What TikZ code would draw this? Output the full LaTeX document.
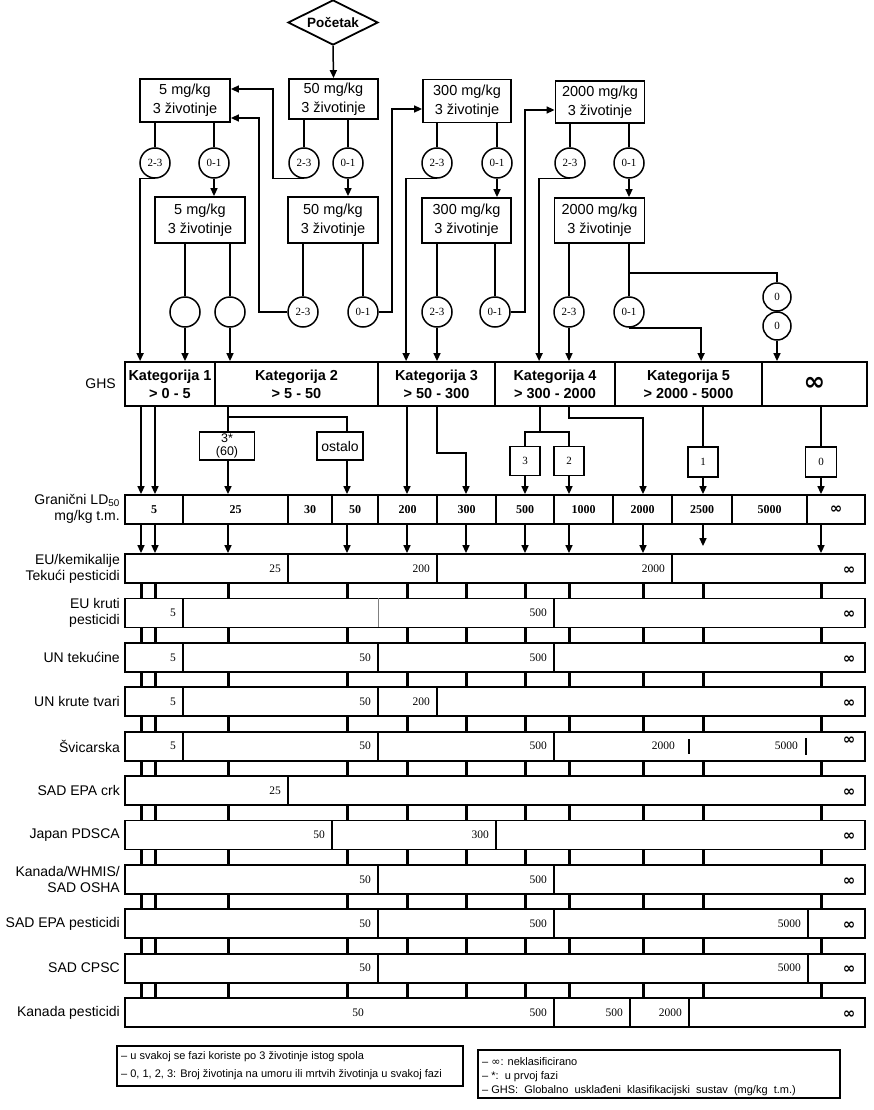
\documentclass[tikz,border=0pt]{standalone}
\usepackage{fontspec}
\setmainfont{Liberation Sans}
\newfontfamily\serifnum{Liberation Serif}
\newfontfamily\djv{DejaVu Sans}
\usetikzlibrary{arrows.meta,shapes.geometric,calc}
\newcommand\rdv[2]{\draw[divl] (#2,{554+44.4*#1}) -- (#2,{583+44.4*#1});}
\newcommand\rnum[3]{\node[num] at ({#2-7},{568.5+44.4*#1}) {#3};}
\newcommand\rinf[1]{\node[inf] at (849,{570.5+44.4*#1}) {∞};}
\begin{document}
\begin{tikzpicture}[x=1pt,y=-1pt,
  >={Triangle[length=8pt,width=7pt]},
  ln/.style={line width=1.5pt},
  divl/.style={line width=1.4pt},
  box/.style={draw,line width=1.8pt,align=center,font=\fontsize{14.5}{19}\selectfont,inner sep=0pt,minimum width=89pt},
  circ/.style={draw,circle,line width=1.5pt,minimum size=30pt,inner sep=0pt,font=\serifnum\fontsize{11}{12}\selectfont},
  zcirc/.style={circ,minimum size=28pt},
  sbox/.style={draw,line width=1.5pt,inner sep=0pt,align=center,minimum height=29pt},
  ghscell/.style={draw,line width=1.8pt,inner sep=0pt,minimum height=44pt,align=center,font=\bfseries\fontsize{14.5}{18}\selectfont},
  cell/.style={draw,line width=1.8pt,inner sep=0pt,minimum height=29pt,font=\serifnum\bfseries\fontsize{12}{13}\selectfont},
  rowbox/.style={draw,line width=1.8pt,inner sep=0pt,minimum height=29pt,minimum width=740pt},
  num/.style={font=\serifnum\fontsize{11.5}{12}\selectfont,anchor=east,inner sep=0pt},
  inf/.style={font=\djv\bfseries\fontsize{15}{15}\selectfont,inner sep=0pt},
  lab/.style={font=\fontsize{14}{16}\selectfont,anchor=east,align=right,inner sep=0pt},
  legt/.style={font=\fontsize{11}{12}\selectfont,anchor=west,inner sep=0pt},
  tick/.style={line width=3pt},
]
\useasboundingbox (0,0) rectangle (874,1110);
\fill[white] (0,0) rectangle (874,1110);

% ---------- start ----------
\node[draw,diamond,aspect=2,minimum width=90pt,minimum height=45pt,inner sep=0pt,line width=1.8pt,font=\bfseries\fontsize{13.5}{15}\selectfont] (start) at (333,22.5) {Početak};

% ---------- dosing boxes ----------
\node[box,minimum width=90pt,minimum height=43pt] (a5) at (185,100.5) {5 mg/kg\\3 životinje};
\node[box,minimum height=40pt] (a50) at (333.5,99) {50 mg/kg\\3 životinje};
\node[box,minimum width=88pt,minimum height=43pt] (a300) at (467,101) {300 mg/kg\\3 životinje};
\node[box,minimum width=89pt,minimum height=42pt] (a2000) at (600,102) {2000 mg/kg\\3 životinje};

\node[box,minimum width=90pt,minimum height=46pt] (b5) at (200,220) {5 mg/kg\\3 životinje};
\node[box,minimum width=90pt,minimum height=46pt] (b50) at (333,220) {50 mg/kg\\3 životinje};
\node[box,minimum width=89pt,minimum height=45pt] (b300) at (466.5,220.5) {300 mg/kg\\3 životinje};
\node[box,minimum width=90pt,minimum height=45pt] (b2000) at (599.5,220.5) {2000 mg/kg\\3 životinje};

\draw[->,ln] (start.south) -- (a50.north);

% ---------- circles, first stage ----------
\node[circ] (cA5t) at (155,163) {2-3};
\node[circ] (cA5o) at (214,163) {0-1};
\node[circ] (cA50t) at (304,163) {2-3};
\node[circ] (cA50o) at (348,163) {0-1};
\node[circ] (cA300t) at (437,163) {2-3};
\node[circ] (cA300o) at (497,163) {0-1};
\node[circ] (cA2000t) at (570,163) {2-3};
\node[circ] (cA2000o) at (629,163) {0-1};

\foreach \b/\c in {a5/cA5t,a5/cA5o,a50/cA50t,a50/cA50o,a300/cA300t,a300/cA300o,a2000/cA2000t,a2000/cA2000o}
  \draw[ln] (\b.south -| \c.north) -- (\c.north);
\draw[->,ln] (cA5o.south) -- (cA5o.south |- b5.north);
\draw[->,ln] (cA50o.south) -- (cA50o.south |- b50.north);
\draw[->,ln] (cA300o.south) -- (cA300o.south |- b300.north);
\draw[->,ln] (cA2000o.south) -- (cA2000o.south |- b2000.north);

% ---------- circles, second stage ----------
\node[circ] (cB5a) at (185,312) {};
\node[circ] (cB5b) at (230,312) {};
\node[circ] (cB50t) at (303,312) {2-3};
\node[circ] (cB50o) at (363,312) {0-1};
\node[circ] (cB300t) at (437,312) {2-3};
\node[circ] (cB300o) at (495,312) {0-1};
\node[circ] (cB2000t) at (569,312) {2-3};
\node[circ] (cB2000o) at (629,312) {0-1};
\node[zcirc] (z1) at (777,297) {0};
\node[zcirc] (z2) at (777,326) {0};

\foreach \b/\c in {b5/cB5a,b5/cB5b,b50/cB50t,b50/cB50o,b300/cB300t,b300/cB300o,b2000/cB2000t,b2000/cB2000o}
  \draw[ln] (\b.south -| \c.north) -- (\c.north);

% ---------- GHS row ----------
\node[lab] (ghslab) at (116,384) {GHS};
\node[ghscell,minimum width=90pt] (k1) at (170,384) {Kategorija 1\\\textgreater{} 0 - 5};
\node[ghscell,minimum width=163pt] (k2) at (296.5,384) {Kategorija 2\\\textgreater{} 5 - 50};
\node[ghscell,minimum width=117pt] (k3) at (436.5,384) {Kategorija 3\\\textgreater{} 50 - 300};
\node[ghscell,minimum width=120pt] (k4) at (555,384) {Kategorija 4\\\textgreater{} 300 - 2000};
\node[ghscell,minimum width=147pt] (k5) at (688.5,384) {Kategorija 5\\\textgreater{} 2000 - 5000};
\node[ghscell,minimum width=105pt,font=\djv\bfseries\fontsize{26}{26}\selectfont] (kinf) at (814.5,384) {\raisebox{-3pt}{∞}};

% feedback / routing connectors
\coordinate (j1) at (273,89);
\coordinate (j2) at (259,118);
\coordinate (j3) at (392,109);
\coordinate (j4) at (525,110);
\coordinate (j5) at (629,273);
\draw[->,ln] (cA50t.south) -| (j1) -- (a5.east |- j1);
\draw[->,ln] (cB50t.west) -| (j2) -- (a5.east |- j2);
\draw[->,ln] (cB50o.east) -| (j3) -- (a300.west |- j3);
\draw[->,ln] (cB300o.east) -| (j4) -- (a2000.west |- j4);
\draw[->,ln] (cA5t.south) -| ([xshift=16pt]k1.north west);
\draw[->,ln] (cA300t.south) -| ([xshift=29pt]k3.north west);
\draw[->,ln] (cA2000t.south) -| ([xshift=45pt]k4.north west);
\draw[->,ln] (cB5a.south) -- (cB5a.south |- k1.north);
\draw[->,ln] (cB5b.south) -- (cB5b.south |- k2.north);
\draw[->,ln] (cB300t.south) -- (cB300t.south |- k3.north);
\draw[->,ln] (cB2000t.south) -- (cB2000t.south |- k4.north);
\draw[->,ln] (cB2000o.south) -| ([xshift=87pt]k5.north west);
\draw[ln] (j5) -| (z1.north);
\draw[->,ln] (z2.south) -- (z2.south |- kinf.north);

% ---------- column positions ----------
\coordinate (X1) at (141,0);
\coordinate (X2) at (155,0);
\coordinate (X3) at (228,0);
\coordinate (X4) at (347,0);
\coordinate (X5) at (407,0);
\coordinate (X6) at (466,0);
\coordinate (X7) at (525,0);
\coordinate (X8) at (569,0);
\coordinate (X9) at (643,0);
\coordinate (X10) at (703,0);
\coordinate (X11) at (821,0);

% ---------- LD50 row ----------
\node[lab] (ldlab) at (120,509) {Granični LD\textsubscript{50}\\mg/kg t.m.};
\foreach \a/\b/\t [count=\i] in {125/183/5,183/288/25,288/332/30,332/378/50,378/437/200,437/496/300,496/554/500,554/613/1000,613/672/2000,672/732/2500,732/807/5000}
  \node[cell,minimum width={(\b-\a)*1pt}] (ld\i) at ({(\a+\b)/2},509.5) {\t};
\node[cell,minimum width=58pt,font=\djv\bfseries\fontsize{15}{15}\selectfont] (ld12) at (836,509.5) {\raisebox{-2pt}{∞}};

% ---------- GHS -> LD50 ----------
\draw[->,ln] (X1 |- k1.south) -- (X1 |- ld1.north);
\draw[->,ln] (X2 |- k1.south) -- (X2 |- ld1.north);
\node[sbox,minimum width=55pt,minimum height=28pt,font=\fontsize{12.5}{13}\selectfont] (s3) at (227,446) {3*\\(60)};
\node[sbox,minimum width=46pt,minimum height=28pt,font=\fontsize{14}{15}\selectfont] (ost) at (340,446) {ostalo};
\coordinate (j6) at (228,417);
\draw[ln] (X3 |- k2.south) -- (j6) -| (X4 |- ost.north);
\draw[ln] (j6) -- (j6 |- s3.north);
\draw[->,ln] (X3 |- s3.south) -- (X3 |- ld2.north);
\draw[->,ln] (X4 |- ost.south) -- (X4 |- ld4.north);
\draw[->,ln] (X5 |- k3.south) -- (X5 |- ld5.north);
\coordinate (j7) at (437,453);
\draw[->,ln] (j7 |- k3.south) -- (j7) -| (X6 |- ld6.north);
\node[sbox,minimum width=30pt,font=\serifnum\fontsize{11}{12}\selectfont] (t3) at (525,461) {3};
\node[sbox,minimum width=30pt,font=\serifnum\fontsize{11}{12}\selectfont] (t2) at (569,461) {2};
\node[sbox,minimum width=30pt,minimum height=30pt,font=\serifnum\fontsize{11}{12}\selectfont] (t1) at (703,462) {1};
\node[sbox,minimum width=31pt,minimum height=30pt,font=\serifnum\fontsize{11}{12}\selectfont] (t0) at (821,462) {0};
\coordinate (j8) at (540,432);
\draw[ln] (j8 |- k4.south) -- (j8);
\draw[ln] (t3.north) |- (j8) -| (t2.north);
\draw[->,ln] (t3.south) -- (X7 |- ld7.north);
\draw[->,ln] (t2.south) -- (X8 |- ld8.north);
\coordinate (j9) at (569,418);
\draw[->,ln] (j9 |- k4.south) -- (j9) -| (X9 |- ld9.north);
\draw[ln] (X10 |- k5.south) -- (t1.north);
\draw[->,ln] (t1.south) -- (X10 |- ld10.north);
\draw[ln] (X11 |- kinf.south) -- (t0.north);
\draw[->,ln] (t0.south) -- (X11 |- ld12.north);

% ---------- regulation rows ----------
\foreach \i in {0,...,10}
  \node[rowbox] (r\i) at (495,{568.5+44.4*\i}) {};

\foreach \c in {X1,X2,X3,X4,X5,X6,X7,X8,X9,X11}
  \draw[->,ln] (\c |- ld1.south) -- (\c |- r0.north);
\draw[->,ln] (X10 |- ld1.south) -- ([yshift=7pt]X10 |- r0.north);

\foreach \i in {0,...,9}{
  \pgfmathtruncatemacro\nx{\i+1}
  \foreach \c in {X1,X2,X3,X4,X5,X6,X7,X8,X9,X10,X11}
    \draw[tick] (\c |- r\i.south) -- (\c |- r\nx.north);
}

% row labels
\node[lab] at (120,568.5) {EU/kemikalije\\Tekući pesticidi};
\node[lab] at (120,612.9) {EU kruti\\pesticidi};
\node[lab] at (120,657.3) {UN tekućine};
\node[lab] at (120,701.7) {UN krute tvari};
\node[lab] at (120,746.1) {Švicarska};
\node[lab] at (120,790.5) {SAD EPA crk};
\node[lab] at (120,834.9) {Japan PDSCA};
\node[lab] at (120,879.3) {Kanada/WHMIS/\\SAD OSHA};
\node[lab] at (120,923.7) {SAD EPA pesticidi};
\node[lab] at (120,968.1) {SAD CPSC};
\node[lab] at (120,1012.5) {Kanada pesticidi};

% row 0
\rdv{0}{288}\rdv{0}{437}\rdv{0}{672}
\rnum{0}{288}{25}\rnum{0}{437}{200}\rnum{0}{672}{2000}\rinf{0}
% row 1
\rdv{1}{183}\draw[line width=0.7pt,gray] (378,598.4) -- (378,627.4);\rdv{1}{554}
\rnum{1}{183}{5}\rnum{1}{554}{500}\rinf{1}
% row 2
\rdv{2}{183}\rdv{2}{378}\rdv{2}{554}
\rnum{2}{183}{5}\rnum{2}{378}{50}\rnum{2}{554}{500}\rinf{2}
% row 3
\rdv{3}{183}\rdv{3}{378}\rdv{3}{437}
\rnum{3}{183}{5}\rnum{3}{378}{50}\rnum{3}{437}{200}\rinf{3}
% row 4
\rdv{4}{183}\rdv{4}{378}\rdv{4}{554}
\rnum{4}{183}{5}\rnum{4}{378}{50}\rnum{4}{554}{500}
\node[num] at (675,746.1) {2000};
\node[num] at (798,746.1) {5000};
\draw[line width=1.2pt] (689,739) -- (689,754);
\draw[line width=1.2pt] (806,738) -- (806,755);
\node[inf] at (849,741) {∞};
% row 5
\rdv{5}{288}\rnum{5}{288}{25}\rinf{5}
% row 6
\rdv{6}{332}\rdv{6}{496}
\rnum{6}{332}{50}\rnum{6}{496}{300}\rinf{6}
% row 7
\rdv{7}{378}\rdv{7}{554}
\rnum{7}{378}{50}\rnum{7}{554}{500}\rinf{7}
% row 8
\rdv{8}{378}\rdv{8}{554}\rdv{8}{808}
\rnum{8}{378}{50}\rnum{8}{554}{500}\rnum{8}{808}{5000}\rinf{8}
% row 9
\rdv{9}{378}\rdv{9}{808}
\rnum{9}{378}{50}\rnum{9}{808}{5000}\rinf{9}
% row 10
\rdv{10}{554}\rdv{10}{630}\rdv{10}{689}
\rnum{10}{371}{50}\rnum{10}{554}{500}\rnum{10}{630}{500}\rnum{10}{689}{2000}\rinf{10}

% ---------- legend ----------
\node[draw,line width=1.5pt,minimum width=346pt,minimum height=40pt,inner sep=0pt] (leg1) at (290,1066) {};
\node[legt] at (121,1057) {– u svakoj se fazi koriste po 3 životinje istog spola};
\node[legt] at (121,1075) {– 0, 1, 2, 3: Broj životinja na umoru ili mrtvih životinja u svakoj fazi};
\node[draw,line width=1.5pt,minimum width=362pt,minimum height=48pt,inner sep=0pt] (leg2) at (659,1074) {};
\node[legt] at (482,1062) {– {\djv ∞}: neklasificirano};
\node[legt] at (482,1077) {– *:\ \ u prvoj fazi};
\node[legt] at (482,1091) {– GHS:\ \ Globalno\ \ usklađeni\ \ klasifikacijski\ \ sustav\ \ (mg/kg\ \ t.m.)};
\end{tikzpicture}
\end{document}
